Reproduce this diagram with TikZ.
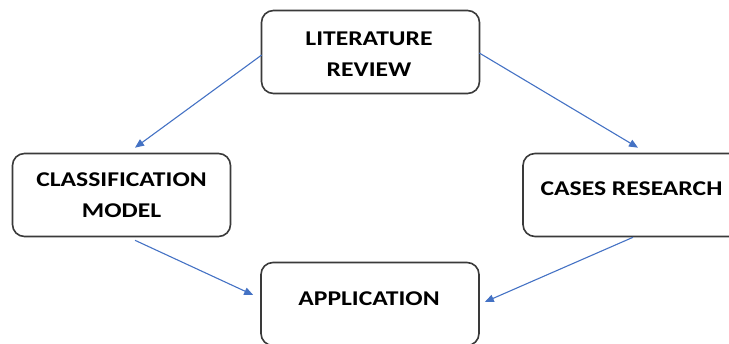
\documentclass[tikz,border=0pt]{standalone}
\usepackage{fontspec}
\setmainfont{Carlito}
\usetikzlibrary{arrows.meta,calc}
\definecolor{arrowblue}{HTML}{4472C4}
\definecolor{boxline}{HTML}{3A3A3A}
\newcommand{\wide}[1]{\scalebox{1.22}[1]{#1}}
\begin{document}
\begin{tikzpicture}[x=1pt,y=-1pt,
  box/.style={draw=boxline,line width=1.6pt,rounded corners=12pt,inner sep=0pt,
    minimum width=218pt,minimum height=83pt,fill=white},
  lbl/.style={font=\fontsize{21}{31}\selectfont\bfseries,align=center,inner sep=0pt,text=black},
  conn/.style={draw=arrowblue,line width=1.1pt,-{Triangle[length=9pt,width=7.5pt]}}]
\useasboundingbox (0,0) rectangle (729,344);
\clip (0,0) rectangle (729,344);
\node[box] (lit) at (370.5,52) {};
\node[box] (cls) at (121.5,195) {};
\node[box] (cas) at (632,195) {};
\node[box] (app) at (370,304) {};
\node[lbl] (littxt) at (369,54) {\wide{LITERATURE}\\\wide{REVIEW}};
\node[lbl] (clstxt) at (121.5,195) {\wide{CLASSIFICATION}\\\wide{MODEL}};
\node[lbl] (castxt) at (631.5,188.5) {\wide{CASES RESEARCH}};
\node[lbl] (apptxt) at (369,298.5) {\wide{APPLICATION}};
\draw[conn] ($(lit.west)+(1,3)$) -- ($(cls.north)+(13.5,-5)$);
\draw[conn] ($(lit.east)+(-1,1)$) -- ($(cas.north)+(6,-5)$);
\draw[conn] ($(cls.south)+(13.5,3)$) -- ($(app.west)+(-7,-9)$);
\draw[conn] ($(cas.south)+(1,0)$) -- ($(app.east)+(5,-2)$);
\end{tikzpicture}
\end{document}
